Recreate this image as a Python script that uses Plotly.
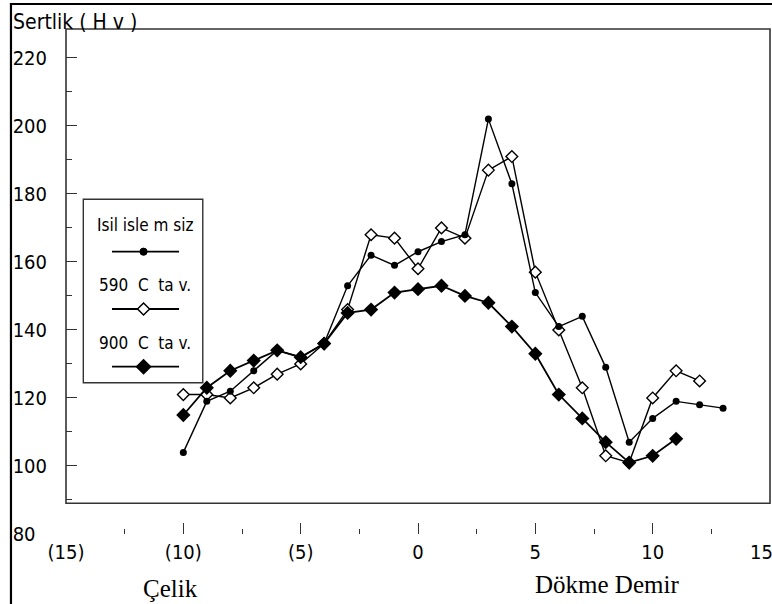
import plotly.graph_objects as go

# ---- data ----
x_isil = [-10, -9, -8, -7, -6, -5, -4, -3, -2, -1, 0, 1, 2, 3, 4, 5, 6, 7, 8, 9, 10, 11, 12, 13]
y_isil = [104, 119, 122, 128, 134, 132, 136, 153, 162, 159, 163, 166, 168, 202, 183, 151, 141, 144, 129, 107, 114, 119, 118, 117]

x_590 = [-10, -9, -8, -7, -6, -5, -4, -3, -2, -1, 0, 1, 2, 3, 4, 5, 6, 7, 8, 9, 10, 11, 12]
y_590 = [121, 121, 120, 123, 127, 130, 136, 146, 168, 167, 158, 170, 167, 187, 191, 157, 140, 123, 103, 101, 120, 128, 125]

x_900 = [-10, -9, -8, -7, -6, -5, -4, -3, -2, -1, 0, 1, 2, 3, 4, 5, 6, 7, 8, 9, 10, 11]
y_900 = [115, 123, 128, 131, 134, 132, 136, 145, 146, 151, 152, 153, 150, 148, 141, 133, 121, 114, 107, 101, 103, 108]

y_tickvals = [80, 100, 120, 140, 160, 180, 200, 220]
y_ticktext = ["80\u00a0\u00a0", "100", "120", "140", "160", "180", "200", "220"]
x_tickvals = [-15, -10, -5, 0, 5, 10, 15]
x_ticktext = ["(15)", "(10)", "(5)", "0", "5", "10", "15\u00a0\u00a0\u00a0"]

series_names = ["Isil isle m siz", "590\u00a0\u00a0C\u00a0\u00a0ta v.", "900\u00a0\u00a0C\u00a0\u00a0ta v."]

NARROW = "DejaVu Sans Condensed, Liberation Sans Narrow, Arial Narrow, sans-serif"
SERIF = "Liberation Serif, Times New Roman, serif"
INK = "#000000"
BOXC = "#333333"

# ---- layout geometry (pixels) ----
W, H = 772, 604
L, R_EDGE, T, B_EDGE = 66, 769.6, 29, 534
YMIN, YMAX = 80, 228.5


def px(x):
    return (x - L) / (R_EDGE - L)


def py(y):
    return (B_EDGE - y) / (B_EDGE - T)


fig = go.Figure()

fig.add_trace(go.Scatter(
    x=x_590, y=y_590, mode="lines+markers", name=series_names[1],
    line=dict(color=INK, width=1.4),
    marker=dict(symbol="diamond", size=9, color="white", line=dict(color=INK, width=1.4)),
))
fig.add_trace(go.Scatter(
    x=x_isil, y=y_isil, mode="lines+markers", name=series_names[0],
    line=dict(color=INK, width=1.4),
    marker=dict(symbol="circle", size=7, color=INK),
))
fig.add_trace(go.Scatter(
    x=x_900, y=y_900, mode="lines+markers", name=series_names[2],
    line=dict(color=INK, width=1.8),
    marker=dict(symbol="diamond", size=11, color=INK),
))

shapes = []
# plot box
shapes.append(dict(type="rect", xref="paper", yref="paper", x0=px(66), x1=px(769.6), y0=py(503.3), y1=py(29),
                   line=dict(color=BOXC, width=1.6), layer="above"))
# outer frame (left and top)
shapes.append(dict(type="line", xref="paper", yref="paper", x0=px(11), x1=px(11), y0=py(3), y1=py(606),
                   line=dict(color=INK, width=2.2)))
shapes.append(dict(type="line", xref="paper", yref="paper", x0=px(10), x1=px(775), y0=py(4), y1=py(4),
                   line=dict(color=INK, width=2.2)))
# legend box
shapes.append(dict(type="rect", xref="paper", yref="paper", x0=px(83.3), x1=px(202.7), y0=py(382.7), y1=py(199.3),
                   line=dict(color=BOXC, width=1.4)))

annotations = []
legend_text_y = [225, 285, 343]
legend_line_y = [251.7, 309, 366.7]
for i in range(3):
    annotations.append(dict(xref="paper", yref="paper", x=px(145), y=py(legend_text_y[i]),
                            text=series_names[i], showarrow=False, xanchor="center", yanchor="middle",
                            font=dict(family=NARROW, size=17, color=INK)))
    ly = legend_line_y[i]
    shapes.append(dict(type="line", xref="paper", yref="paper", x0=px(112), x1=px(179), y0=py(ly), y1=py(ly),
                       line=dict(color=INK, width=1.8)))
    cx = 143.5
    if i == 0:
        r = 3.6
        shapes.append(dict(type="circle", xref="paper", yref="paper", x0=px(cx - r), x1=px(cx + r),
                           y0=py(ly + r), y1=py(ly - r), fillcolor=INK, line=dict(color=INK, width=1)))
    else:
        h = 6.0 if i == 1 else 7.0
        path = "M {} {} L {} {} L {} {} L {} {} Z".format(
            px(cx - h), py(ly), px(cx), py(ly - h), px(cx + h), py(ly), px(cx), py(ly + h))
        shapes.append(dict(type="path", xref="paper", yref="paper", path=path,
                           fillcolor="white" if i == 1 else INK, line=dict(color=INK, width=1.5)))

annotations.append(dict(xref="paper", yref="paper", x=px(11), y=py(22), text="Sertlik ( H v )",
                        showarrow=False, xanchor="left", yanchor="middle",
                        font=dict(family=NARROW, size=21, color=INK)))
annotations.append(dict(xref="paper", yref="paper", x=px(170), y=py(588), text="Çelik",
                        showarrow=False, xanchor="center", yanchor="middle",
                        font=dict(family=SERIF, size=25, color=INK)))
annotations.append(dict(xref="paper", yref="paper", x=px(607), y=py(584), text="Dökme Demir",
                        showarrow=False, xanchor="center", yanchor="middle",
                        font=dict(family=SERIF, size=25, color=INK)))

fig.update_layout(
    template="none",
    width=W, height=H,
    margin=dict(l=L, r=W - R_EDGE, t=T, b=H - B_EDGE, pad=0),
    paper_bgcolor="white", plot_bgcolor="white",
    showlegend=False,
    shapes=shapes,
    annotations=annotations,
    xaxis=dict(range=[-15, 15], showgrid=False, zeroline=False, showline=False,
               tickmode="array", tickvals=x_tickvals, ticktext=x_ticktext,
               ticks="inside", ticklen=11, tickwidth=1.4, tickcolor=BOXC,
               minor=dict(ticks="inside", ticklen=5, tickwidth=1.2, tickcolor=BOXC, dtick=2.5, tick0=-15,
                          showgrid=False),
               tickfont=dict(family=NARROW, size=20, color=INK),
               ticklabelstandoff=4, ticklabeloverflow="allow", automargin=False),
    yaxis=dict(range=[YMIN, YMAX], showgrid=False, zeroline=False, showline=False,
               tickmode="array", tickvals=y_tickvals, ticktext=y_ticktext,
               ticks="inside", ticklen=11, tickwidth=1.4, tickcolor=BOXC,
               minor=dict(ticks="inside", ticklen=6, tickwidth=1.2, tickcolor=BOXC, dtick=10, tick0=80,
                          showgrid=False),
               tickfont=dict(family=NARROW, size=20, color=INK),
               ticklabelstandoff=18, automargin=False),
)

fig.write_html("out.html", config={"displayModeBar": False},
               post_script="document.body.style.margin='0px';document.body.style.overflow='hidden';")
